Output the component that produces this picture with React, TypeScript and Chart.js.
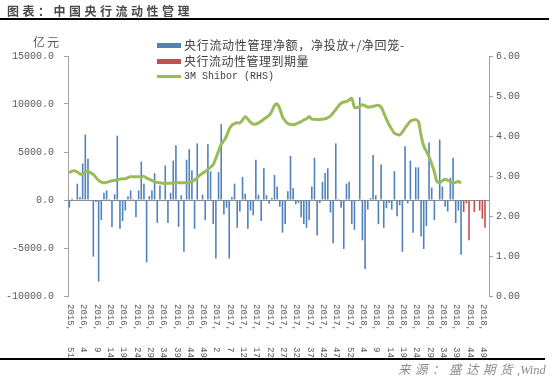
import React, { useEffect, useRef } from "react";
import { Chart, registerables } from "chart.js";

Chart.register(...registerables);

// Week categories: [year, first week, last week]
const weekRanges: [number, number, number][] = [
  [2015, 51, 52],
  [2016, 1, 52],
  [2017, 1, 53],
  [2018, 1, 51],
];
const categories: string[] = [];
weekRanges.forEach(([y, a, b]) => {
  for (let w = a; w <= b; w++) categories.push(`${y},${w}`);
});

// 央行流动性管理净额（亿元）
const netInjection: (number | null)[] = [
  -800, 150, 50, 1700, 300, 3800, 6800, 4300, 0, -5900,
  -200, -8500, -2100, 750, 1000, 100, -2800, 600, 6700, -3000,
  -2200, -1100, 400, 1000, 100, -1800, 1000, 4000, 1700, -6500,
  400, 1000, 2800, -2400, 1500, -100, 3600, -2400, 750, 4100,
  5700, -2800, 500, -5400, 4200, 5300, 3100, -3000, 5900, -100,
  550, -2100, 5800, 3000, -2500, -6100, 2900, 7900, -1500, -800,
  -6100, 300, 1700, -2900, -1200, 2400, 650, -3000, -1100, -1600,
  4200, 550, -2200, 3300, 500, -400, 200, 2600, 1400, -700,
  -3400, -2500, 900, 4600, 1250, -450, -300, -1800, -2500, -2900,
  -2100, 1400, 4400, -3700, -300, 1900, 2800, 3300, -1300, -4500,
  5900, 100, -800, -5100, 1700, 1900, -2500, -3100, 0, 10700,
  -4200, -7200, -1000, 200, 4700, 500, -2500, 3700, -2900, -850,
  -300, -1000, 3000, -1700, -550, -5400, 5600, -350, 4100, -3400,
  3400, 3400, -3800, -5100, -2700, 6000, 1300, -2100, 0, 6300,
  1400, -700, -1200, 2300, 4400, -2400, -1100, -5700,
  null, null, null, null, null, null, null, null, null, null,
];

// 央行流动性管理到期量（亿元）
const maturity: (number | null)[] = [
  ...new Array(148).fill(null),
  -1250, -350, -4200, 0, -1250, 0, -1100, -1950, -2900, null,
];

// 3M Shibor (%)
const shibor3M: (number | null)[] = [
  3.08, 3.12, 3.13, 3.10, 3.05, 3.05, 3.10, 3.12, 3.08, 3.04,
  2.96, 2.89, 2.85, 2.83, 2.84, 2.86, 2.88, 2.89, 2.91, 2.92,
  2.93, 2.93, 2.96, 2.98, 2.98, 2.98, 2.98, 2.98, 2.99, 2.95,
  2.92, 2.89, 2.86, 2.84, 2.83, 2.82, 2.81, 2.82, 2.82, 2.83,
  2.83, 2.83, 2.83, 2.83, 2.83, 2.84, 2.86, 2.90, 2.96, 3.02,
  3.07, 3.11, 3.16, 3.22, 3.29, 3.45, 3.62, 3.79, 3.88, 4.00,
  4.17, 4.27, 4.31, 4.33, 4.33, 4.40, 4.48, 4.42, 4.34, 4.30,
  4.30, 4.33, 4.37, 4.42, 4.47, 4.52, 4.62, 4.76, 4.80, 4.68,
  4.48, 4.38, 4.31, 4.29, 4.28, 4.30, 4.33, 4.36, 4.40, 4.43,
  4.48, 4.42, 4.42, 4.41, 4.41, 4.42, 4.43, 4.46, 4.50, 4.58,
  4.66, 4.75, 4.82, 4.85, 4.86, 4.90, 4.94, 4.72, 4.71, 4.74,
  4.78, 4.76, 4.72, 4.73, 4.74, 4.76, 4.77, 4.72, 4.58, 4.42,
  4.28, 4.17, 4.07, 4.04, 4.03, 4.10, 4.20, 4.29, 4.37, 4.40,
  4.41, 4.36, 4.02, 3.75, 3.62, 3.48, 3.30, 3.10, 2.86, 2.84,
  2.88, 2.92, 2.89, 2.86, 2.83, 2.84, 2.86, 2.82,
  null, null, null, null, null, null, null, null, null, null,
];

const leftTicks = { min: -10000, max: 15000, step: 5000 };
const rightTicks = { min: 0, max: 6, step: 1 };

const AXIS = "#a0a0a0";
const TXT = "#595959";
const MONO = '"Liberation Mono", "DejaVu Sans Mono", monospace';
const CJK = '"Noto Sans CJK SC", "Noto Sans", sans-serif';

const xLabelPlugin = {
  id: "xLabels",
  afterDraw(chart: any) {
    const xs = chart.scales.x;
    const ctx = chart.ctx;
    ctx.save();
    ctx.font = `9px ${MONO}`;
    ctx.fillStyle = TXT;
    ctx.textBaseline = "middle";
    ctx.textAlign = "left";
    categories.forEach((c, i) => {
      if (i % 5 !== 0) return;
      const [yr, wk] = c.split(",");
      const x = xs.getPixelForValue(i);
      ctx.save();
      ctx.translate(x + 1, 304);
      ctx.rotate(Math.PI / 2);
      ctx.fillText(yr + ",", 0, 0);
      ctx.fillText(wk, 43, 0);
      ctx.restore();
    });
    ctx.restore();
  },
};

export default function App() {
  const ref = useRef<HTMLCanvasElement>(null);
  useEffect(() => {
    if (!ref.current) return;
    const chart = new Chart(ref.current, {
      data: {
        labels: categories,
        datasets: [
          {
            type: "line",
            label: "3M Shibor (RHS)",
            data: shibor3M,
            yAxisID: "y1",
            borderColor: "#9BBB59",
            borderWidth: 3,
            pointRadius: 0,
            tension: 0.4,
            order: 0,
          },
          {
            type: "bar",
            label: "央行流动性管理净额，净投放+/净回笼-",
            data: netInjection,
            yAxisID: "y",
            backgroundColor: "#4F81BD",
            barPercentage: 0.6,
            categoryPercentage: 1,
            order: 1,
          },
          {
            type: "bar",
            label: "央行流动性管理到期量",
            data: maturity,
            yAxisID: "y",
            backgroundColor: "#C0504D",
            barPercentage: 0.6,
            categoryPercentage: 1,
            order: 2,
          },
        ] as any,
      },
      options: {
        animation: false,
        responsive: false,
        maintainAspectRatio: false,
        layout: { padding: { top: 56, bottom: 0, left: 0, right: 0 } },
        plugins: { legend: { display: false }, tooltip: { enabled: false } },
        scales: {
          x: {
            stacked: true,
            grid: { display: false },
            border: { display: false },
            ticks: { display: false },
            afterFit: (s: any) => {
              s.height = 83;
              s.paddingLeft = 0;
              s.paddingRight = 0;
            },
          },
          y: {
            stacked: true,
            position: "left",
            min: leftTicks.min,
            max: leftTicks.max,
            ticks: {
              stepSize: leftTicks.step,
              callback: (v: any) => Number(v).toFixed(1),
              font: { family: MONO, size: 10 },
              color: TXT,
              padding: 10,
            },
            grid: {
              color: (c: any) => (c.tick && c.tick.value === 0 ? "#8c8c8c" : "rgba(0,0,0,0)"),
              tickColor: AXIS,
              tickLength: 4,
            },
            border: { color: AXIS, width: 1 },
            afterFit: (s: any) => {
              s.width = 68;
              s.paddingTop = 0;
              s.paddingBottom = 0;
            },
          },
          y1: {
            position: "right",
            min: rightTicks.min,
            max: rightTicks.max,
            ticks: {
              stepSize: rightTicks.step,
              callback: (v: any) => Number(v).toFixed(2),
              font: { family: MONO, size: 10 },
              color: TXT,
              padding: 3,
            },
            grid: { drawOnChartArea: false, tickColor: AXIS, tickLength: 4 },
            border: { color: AXIS, width: 1 },
            afterFit: (s: any) => {
              s.width = 63;
              s.paddingTop = 0;
              s.paddingBottom = 0;
            },
          },
        },
      } as any,
      plugins: [xLabelPlugin],
    });
    return () => chart.destroy();
  }, []);

  const abs = (o: React.CSSProperties): React.CSSProperties => ({ position: "absolute", ...o });

  return (
    <div style={{ position: "absolute", left: 0, top: 0, width: 552, height: 379, background: "#fff", overflow: "hidden" }}>
      <canvas ref={ref} width={552} height={379} style={abs({ left: 0, top: 0, width: 552, height: 379 })} />
      <div style={abs({ left: 7, top: 3, fontFamily: CJK, fontSize: 12, fontWeight: 700, letterSpacing: 3.5, color: "#4a4a4a", whiteSpace: "nowrap", lineHeight: "16px" })}>
        图表：中国央行流动性管理
      </div>
      <div style={abs({ left: 0, top: 18, width: 549, height: 1.5, background: "#000" })} />
      <div style={abs({ left: 33, top: 34, fontFamily: CJK, fontSize: 12, letterSpacing: 2, color: TXT, lineHeight: "16px", whiteSpace: "nowrap" })}>
        亿元
      </div>
      {/* legend */}
      <div style={abs({ left: 157, top: 43, width: 24, height: 5, background: "#4F81BD" })} />
      <div style={abs({ left: 184, top: 37, fontFamily: CJK, fontSize: 12, letterSpacing: 0.7, color: "#404040", lineHeight: "16px", whiteSpace: "nowrap" })}>
        央行流动性管理净额，净投放+/净回笼-
      </div>
      <div style={abs({ left: 157, top: 59, width: 24, height: 5, background: "#C0504D" })} />
      <div style={abs({ left: 184, top: 53, fontFamily: CJK, fontSize: 12, letterSpacing: 0.5, color: "#404040", lineHeight: "16px", whiteSpace: "nowrap" })}>
        央行流动性管理到期量
      </div>
      <div style={abs({ left: 157, top: 75, width: 24, height: 3, background: "#9BBB59" })} />
      <div style={abs({ left: 184, top: 69, fontFamily: MONO, fontSize: 10, color: "#404040", lineHeight: "16px", whiteSpace: "nowrap" })}>
        3M Shibor (RHS)
      </div>
      <div style={abs({ left: 0, top: 358, width: 545, height: 1.5, background: "#000" })} />
      <div style={abs({ left: 398, top: 362, fontFamily: '"Liberation Serif", "Noto Sans CJK SC", serif', fontStyle: "italic", fontSize: 12.5, color: "#8c8c8c", lineHeight: "16px", whiteSpace: "nowrap" })}>
        <span style={{ letterSpacing: 4.5 }}>来源：盛达期货</span>,Wind
      </div>
    </div>
  );
}
